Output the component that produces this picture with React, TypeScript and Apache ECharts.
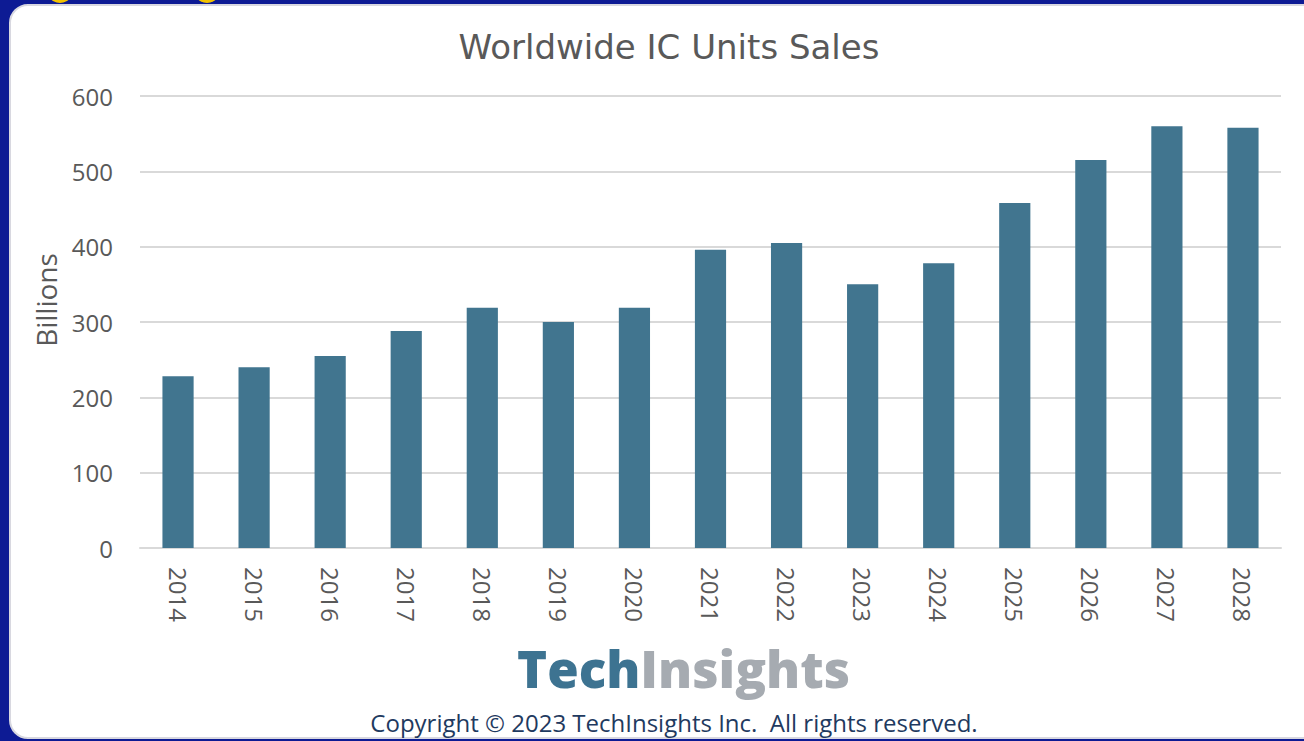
import React, { useEffect, useRef } from "react";
import * as echarts from "echarts";

const years = ["2014","2015","2016","2017","2018","2019","2020","2021","2022","2023","2024","2025","2026","2027","2028"];
const unitsBillions = [228, 240, 255, 288, 319, 300, 319, 396, 405, 350, 378, 458, 515, 560, 558];
const yTicks = { min: 0, max: 600, interval: 100 };
const yAxisName = "Billions";

export default function App() {
  const ref = useRef<HTMLDivElement>(null);
  useEffect(() => {
    const chart = echarts.init(ref.current!, undefined, { renderer: "svg" });
    chart.setOption({
      animation: false,
      backgroundColor: "#0d1b94",
      title: {
        text: "Worldwide IC Units Sales",
        left: 664,
        textAlign: "center",
        top: 25,
        textStyle: { fontFamily: "DejaVu Sans", fontSize: 34, fontWeight: "normal", color: "#595959" },
      },
      graphic: [
        { type: "circle", shape: { cx: 60, cy: -10, r: 13 }, style: { fill: "#f2c200" }, z: -5 },
        { type: "circle", shape: { cx: 207, cy: -10, r: 13 }, style: { fill: "#f2c200" }, z: -5 },
        { type: "rect", shape: { x: 10, y: 5, width: 1320, height: 733, r: 18 }, style: { fill: "#ffffff", stroke: "#d8d8e0", lineWidth: 2 }, z: -10 },
        {
          type: "text",
          x: 46,
          y: 300,
          rotation: Math.PI / 2,
          style: {
            text: yAxisName,
            fontFamily: "Open Sans",
            fontSize: 28,
            fill: "#595959",
            align: "center",
            verticalAlign: "middle",
          },
        },
        {
          type: "text",
          left: 517,
          top: 642,
          style: {
            text: "{a|Tech}{b|Insights}",
            rich: {
              a: { fontFamily: "Open Sans", fontWeight: 800, fontSize: 51, fill: "#3d7391", color: "#3d7391" },
              b: { fontFamily: "Open Sans", fontWeight: 800, fontSize: 51, fill: "#a6abb1", color: "#a6abb1" },
            },
          },
        },
        {
          type: "text",
          x: 674,
          y: 722,
          style: {
            text: "Copyright © 2023 TechInsights Inc.  All rights reserved.",
            fontFamily: "Open Sans",
            fontSize: 24,
            fill: "#1f3a60",
            align: "center",
            verticalAlign: "middle",
          },
        },
      ],
      grid: { left: 140, right: 23, top: 96, bottom: 193 },
      xAxis: {
        type: "category",
        data: years,
        axisLine: { lineStyle: { color: "#d9d9d9", width: 2 } },
        axisTick: { show: false },
        axisLabel: { rotate: -90, margin: 19, fontFamily: "Open Sans", fontSize: 24, color: "#595959" },
      },
      yAxis: {
        type: "value",
        min: yTicks.min,
        max: yTicks.max,
        interval: yTicks.interval,
        axisLine: { show: false },
        axisTick: { show: false },
        axisLabel: { margin: 27, fontFamily: "Open Sans", fontSize: 24, color: "#595959" },
        splitLine: { lineStyle: { color: "#d9d9d9", width: 2 } },
      },
      series: [
        {
          type: "bar",
          data: unitsBillions,
          barCategoryGap: "59%",
          itemStyle: { color: "#41758f" },
        },
      ],
    });
    return () => chart.dispose();
  }, []);
  return <div ref={ref} style={{ position: "fixed", left: 0, top: 0, width: 1304, height: 741 }} />;
}
